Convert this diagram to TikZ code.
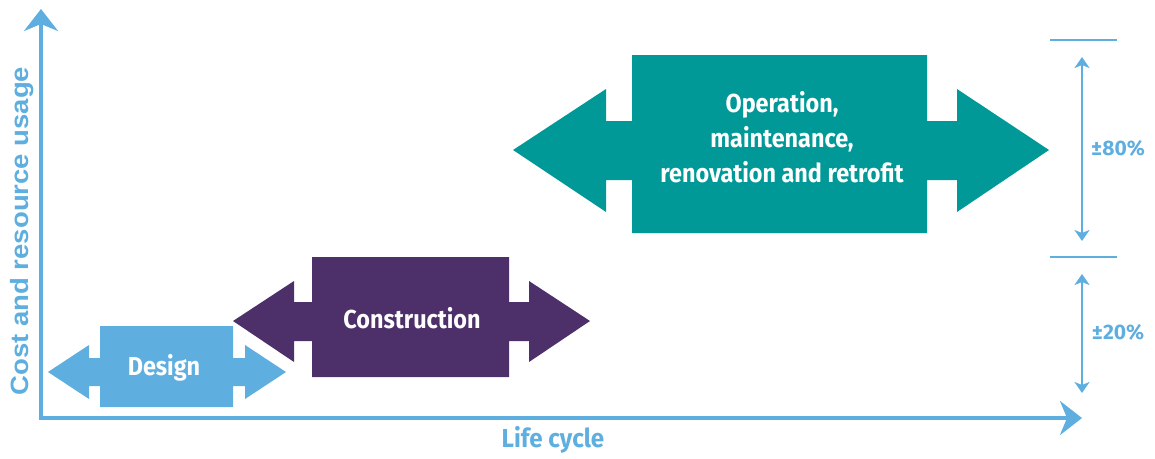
\documentclass[tikz,border=0pt]{standalone}
\usepackage{fontspec}
\setmainfont{Fira Sans}
\newfontfamily\condfont[FakeStretch=0.9]{Fira Sans}
\newfontfamily\lifefont[FakeStretch=0.93]{Fira Sans}
\newfontfamily\pctfont{Fira Sans}
\newfontfamily\yfont[FakeStretch=1.1]{Liberation Sans}
\usetikzlibrary{arrows.meta}
\definecolor{lblue}{RGB}{94,174,224}
\definecolor{dpurple}{RGB}{77,47,106}
\definecolor{dteal}{RGB}{0,153,152}
\tikzset{
  axisline/.style={draw=lblue, line width=3.5pt, -{Stealth[length=22pt,width=34pt,inset=7pt]}},
  dimline/.style={draw=lblue, line width=2pt, {Stealth[length=11pt,width=15pt,inset=3pt]}-{Stealth[length=11pt,width=15pt,inset=3pt]}},
  tickline/.style={draw=lblue, line width=2pt},
  boxtext/.style={text=white, font=\condfont\bfseries\fontsize{26}{35}\selectfont, align=center, inner sep=0pt},
  axistext/.style={text=lblue, font=\lifefont\bfseries\fontsize{26}{30}\selectfont, inner sep=0pt},
  yaxistext/.style={text=lblue, font=\yfont\bfseries\fontsize{25}{30}\selectfont, inner sep=0pt},
  pcttext/.style={text=lblue, font=\pctfont\bfseries\fontsize{21}{25}\selectfont, inner sep=0pt}
}
\begin{document}
\begin{tikzpicture}[x=1pt,y=-1pt]
\useasboundingbox (0,0) rectangle (1155,458);
% axes
\coordinate (origin) at (41,418);
\coordinate (ytip) at (41,9);
\coordinate (xtip) at (1082,418);
\draw[axisline] (41,419.75) -- (ytip);
\draw[axisline] (39.25,418) -- (xtip);
% design
\fill[lblue] (48,372) -- (89,345) -- (89,358) -- (100,358) -- (100,326) -- (233,326) -- (233,358) -- (245,358) -- (245,345) -- (286,372) -- (245,399) -- (245,386) -- (233,386) -- (233,407) -- (100,407) -- (100,386) -- (89,386) -- (89,399) -- cycle;
% construction
\fill[dpurple] (233,321) -- (294,281) -- (294,302) -- (312,302) -- (312,257) -- (509,257) -- (509,302) -- (529,302) -- (529,281) -- (590,321) -- (529,362) -- (529,341) -- (509,341) -- (509,377) -- (312,377) -- (312,341) -- (294,341) -- (294,362) -- cycle;
% operation
\fill[dteal] (513,150) -- (606,89) -- (606,121) -- (632,121) -- (632,55) -- (927,55) -- (927,121) -- (957,121) -- (957,89) -- (1049,150) -- (957,212) -- (957,180) -- (927,180) -- (927,233) -- (632,233) -- (632,180) -- (606,180) -- (606,212) -- cycle;
\node[boxtext] (design) at (164,368) {Design};
\node[boxtext] (construction) at (412,318) {Construction};
\node[boxtext] (operation) at (782,137) {Operation,\\maintenance,\\renovation and retrofit};
% axis labels
\node[yaxistext, rotate=90] (ylabel) at (22,231) {Cost and resource usage};
\node[axistext] (xlabel) at (553,440) {Life cycle};
% right scale
\coordinate (t1a) at (1050,40);
\coordinate (t1b) at (1117,40);
\coordinate (t2a) at (1050,257);
\coordinate (t2b) at (1117,257);
\draw[tickline] (t1a) -- (t1b);
\draw[tickline] (t2a) -- (t2b);
\coordinate (a1s) at (1082,57);
\coordinate (a1e) at (1082,241);
\coordinate (a2s) at (1082,274);
\coordinate (a2e) at (1082,393);
\draw[dimline] (a1s) -- (a1e);
\draw[dimline] (a2s) -- (a2e);
\node[pcttext] (p80) at (1118,148) {±80\%};
\node[pcttext] (p20) at (1118,332) {±20\%};
\end{tikzpicture}
\end{document}
